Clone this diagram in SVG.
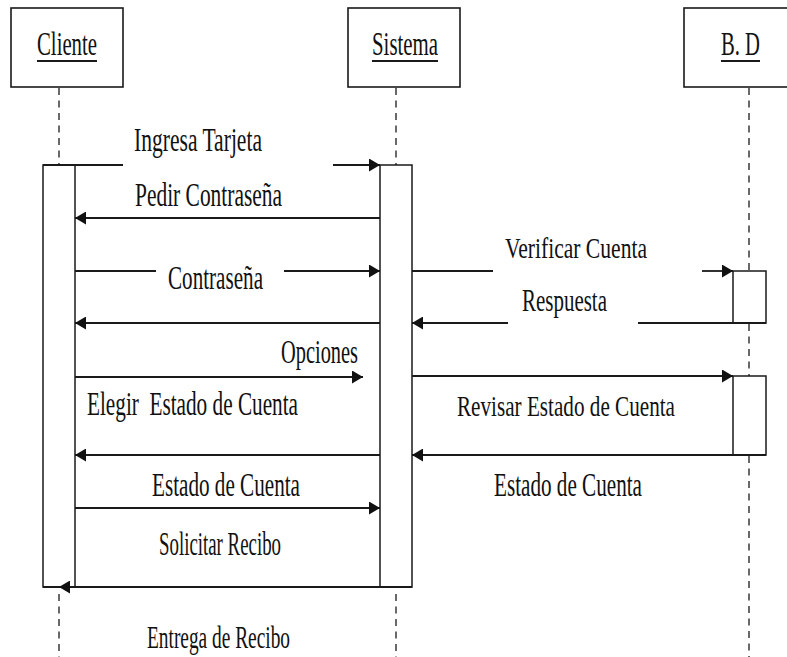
<svg xmlns="http://www.w3.org/2000/svg" width="787" height="657" viewBox="0 0 787 657">
  <defs>
    <style>
      .box { fill: #ffffff; stroke: #1a1a1a; stroke-width: 1.6; }
      .act { fill: #ffffff; stroke: #1a1a1a; stroke-width: 1.5; }
      .life { stroke: #1a1a1a; stroke-width: 1.3; stroke-dasharray: 7 5.5; fill: none; }
      .msg { stroke: #1a1a1a; stroke-width: 1.8; fill: none; }
      .arrow { marker-end: url(#head); }
      .uline { stroke: #1a1a1a; stroke-width: 1.8; }
      text { font-family: "Liberation Serif", "Times New Roman", serif; font-size: 33px; fill: #111111; }
      .small { font-size: 29px; }
      .mid { font-size: 31px; }
    </style>
    <marker id="head" markerUnits="userSpaceOnUse" markerWidth="12" markerHeight="13" refX="11" refY="6.5" orient="auto">
      <path d="M0,0 L11,6.5 L0,13 z" fill="#111111"/>
    </marker>
  </defs>
  <rect width="787" height="657" fill="#ffffff"/>

  <!-- lifelines -->
  <g id="lifelines">
    <line class="life" x1="59" y1="88" x2="59" y2="165"/>
    <line class="life" x1="59" y1="594" x2="59" y2="657"/>
    <line class="life" x1="396" y1="88" x2="396" y2="165"/>
    <line class="life" x1="396" y1="594" x2="396" y2="657"/>
    <line class="life" x1="749" y1="88" x2="749" y2="271"/>
    <line class="life" x1="749" y1="324" x2="749" y2="376"/>
    <line class="life" x1="749" y1="456" x2="749" y2="657"/>
  </g>

  <!-- participants -->
  <g id="cliente">
    <rect class="box" x="11" y="8" width="112" height="79"/>
    <text x="37" y="55" textLength="60" lengthAdjust="spacingAndGlyphs">Cliente</text>
    <line class="uline" x1="37" y1="61" x2="97" y2="61"/>
    <rect class="act" x="43" y="165" width="32" height="422"/>
  </g>
  <g id="sistema">
    <rect class="box" x="348" y="8" width="112" height="79"/>
    <text x="372" y="55" textLength="66" lengthAdjust="spacingAndGlyphs">Sistema</text>
    <line class="uline" x1="372" y1="61" x2="438" y2="61"/>
    <rect class="act" x="380" y="165" width="32" height="422"/>
  </g>
  <g id="bd">
    <rect class="box" x="684" y="8" width="112" height="79"/>
    <text x="721" y="55" textLength="39" lengthAdjust="spacingAndGlyphs">B. D</text>
    <line class="uline" x1="721" y1="61" x2="760" y2="61"/>
    <rect class="act" x="733" y="271" width="33" height="52"/>
    <rect class="act" x="733" y="376" width="33" height="79"/>
  </g>

  <!-- messages -->
  <g id="connectors">
    <line class="msg" x1="43" y1="165" x2="123" y2="165"/>
    <line class="msg arrow" x1="333" y1="165" x2="380" y2="165"/>
    <line class="msg arrow" x1="380" y1="218" x2="75" y2="218"/>
    <line class="msg" x1="75" y1="271" x2="156" y2="271"/>
    <line class="msg arrow" x1="284" y1="271" x2="380" y2="271"/>
    <line class="msg arrow" x1="380" y1="323" x2="75" y2="323"/>
    <line class="msg arrow" x1="75" y1="377" x2="363" y2="377"/>
    <line class="msg arrow" x1="380" y1="455" x2="75" y2="455"/>
    <line class="msg arrow" x1="75" y1="508" x2="380" y2="508"/>
    <line class="msg" x1="43" y1="587" x2="412" y2="587"/>
    <line class="msg arrow" x1="412" y1="587" x2="59" y2="587"/>
    <line class="msg" x1="412" y1="271" x2="493" y2="271"/>
    <line class="msg arrow" x1="702" y1="271" x2="733" y2="271"/>
    <line class="msg" x1="766" y1="323" x2="638" y2="323"/>
    <line class="msg arrow" x1="508" y1="323" x2="412" y2="323"/>
    <line class="msg arrow" x1="412" y1="376" x2="733" y2="376"/>
    <line class="msg arrow" x1="766" y1="455" x2="412" y2="455"/>
  </g>

  <!-- message labels -->
  <g id="labels">
    <text x="134" y="151" textLength="128" lengthAdjust="spacingAndGlyphs">Ingresa Tarjeta</text>
    <text x="135" y="206" textLength="147" lengthAdjust="spacingAndGlyphs">Pedir Contraseña</text>
    <text x="168" y="289" textLength="95" lengthAdjust="spacingAndGlyphs">Contraseña</text>
    <text x="281" y="363" textLength="77" lengthAdjust="spacingAndGlyphs">Opciones</text>
    <text x="87" y="415" textLength="211" lengthAdjust="spacingAndGlyphs" xml:space="preserve">Elegir  Estado de Cuenta</text>
    <text x="152" y="496" textLength="148" lengthAdjust="spacingAndGlyphs">Estado de Cuenta</text>
    <text x="159" y="555" textLength="122" lengthAdjust="spacingAndGlyphs">Solicitar Recibo</text>
    <text class="mid" x="147" y="648" textLength="143" lengthAdjust="spacingAndGlyphs">Entrega de Recibo</text>
    <text class="small" x="505" y="258" textLength="142" lengthAdjust="spacingAndGlyphs">Verificar Cuenta</text>
    <text class="mid" x="522" y="311" textLength="85" lengthAdjust="spacingAndGlyphs">Respuesta</text>
    <text class="small" x="457" y="416" textLength="218" lengthAdjust="spacingAndGlyphs">Revisar Estado de Cuenta</text>
    <text x="494" y="496" textLength="148" lengthAdjust="spacingAndGlyphs">Estado de Cuenta</text>
  </g>
</svg>
